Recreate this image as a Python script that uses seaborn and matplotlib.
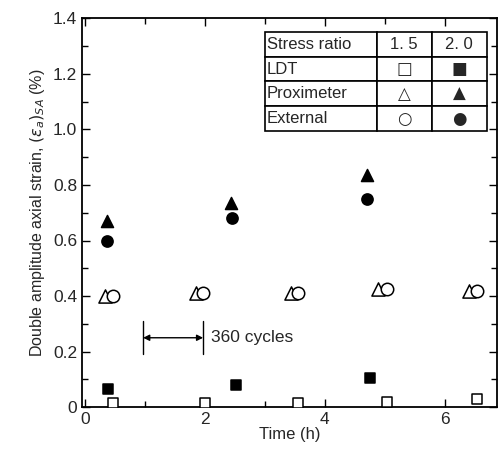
import numpy as np
import pandas as pd
import matplotlib
matplotlib.use("Agg")
import matplotlib.pyplot as plt
import seaborn as sns

# Data (time in h, strain in %)
ldt_15_t = [0.47, 2.0, 3.55, 5.03, 6.53]
ldt_15_y = [0.015, 0.015, 0.015, 0.02, 0.03]
prox_15_t = [0.33, 1.85, 3.44, 4.89, 6.40]
prox_15_y = [0.40, 0.41, 0.41, 0.425, 0.42]
ext_15_t = [0.47, 1.97, 3.56, 5.03, 6.53]
ext_15_y = [0.40, 0.41, 0.41, 0.425, 0.42]

ldt_20_t = [0.38, 2.52, 4.75]
ldt_20_y = [0.065, 0.08, 0.105]
prox_20_t = [0.37, 2.43, 4.70]
prox_20_y = [0.67, 0.735, 0.835]
ext_20_t = [0.37, 2.45, 4.70]
ext_20_y = [0.60, 0.68, 0.75]

x_ticks = [0, 2, 4, 6]
y_ticks = [0, 0.2, 0.4, 0.6, 0.8, 1.0, 1.2, 1.4]
y_ticklabels = ["0", "0.2", "0.4", "0.6", "0.8", "1.0", "1.2", "1.4"]

sns.set_style("ticks")
plt.rcParams["font.family"] = ["Liberation Sans", "DejaVu Sans"]

fig = plt.figure(figsize=(5.03, 4.55), dpi=100)
ax = fig.add_axes([0.163, 0.105, 0.825, 0.855])

series = [
    (ldt_15_t, ldt_15_y, "s", "white", 60),
    (prox_15_t, prox_15_y, "^", "white", 90),
    (ext_15_t, ext_15_y, "o", "white", 80),
    (ldt_20_t, ldt_20_y, "s", "black", 55),
    (prox_20_t, prox_20_y, "^", "black", 75),
    (ext_20_t, ext_20_y, "o", "black", 65),
]
for t, y, m, fc, s in series:
    df = pd.DataFrame({"time": t, "strain": y})
    sns.scatterplot(data=df, x="time", y="strain", marker=m, s=s,
                    facecolor=fc, edgecolor="black", linewidth=1.1,
                    ax=ax, zorder=3)

ax.set_xlim(-0.05, 6.87)
ax.set_ylim(0, 1.39)
ax.set_xticks(x_ticks)
ax.set_xticks([1, 3, 5], minor=True)
ax.set_yticks(y_ticks)
ax.set_yticklabels(y_ticklabels)
ax.set_yticks(np.arange(0.1, 1.4, 0.2), minor=True)
ax.tick_params(which="both", direction="in", top=True, right=True,
               labelsize=12.5, color="black", width=1.0)
ax.tick_params(which="major", length=6)
ax.tick_params(which="minor", length=4)
for sp in ax.spines.values():
    sp.set_linewidth(1.3)
    sp.set_color("black")

ax.set_xlabel("Time (h)", fontsize=12, labelpad=0)
ax.set_ylabel(r"Double amplitude axial strain, $(\varepsilon_a)_{SA}$ (%)",
              fontsize=11.5, labelpad=4)

# 360 cycles marker
ax.annotate("", xy=(0.97, 0.25), xytext=(1.97, 0.25),
            arrowprops=dict(arrowstyle="<|-|>", color="black", lw=1.0,
                            mutation_scale=9, shrinkA=0, shrinkB=0))
ax.plot([0.97, 0.97], [0.19, 0.31], color="black", lw=1.0)
ax.plot([1.97, 1.97], [0.19, 0.31], color="black", lw=1.0)
ax.text(2.1, 0.25, "360 cycles", fontsize=12.5, va="center", ha="left")

# legend table
cells = [["Stress ratio", "1. 5", "2. 0"],
         ["LDT", "\u25a1", "\u25a0"],
         ["Proximeter", "\u25b3", "\u25b2"],
         ["External", "\u25cb", "\u25cf"]]
tb = ax.table(cellText=cells, cellLoc="center",
              colWidths=[112, 55, 55],
              bbox=[0.44, 0.71, 0.535, 0.255])
tb.auto_set_font_size(False)
for (r, c), cell in tb.get_celld().items():
    cell.set_linewidth(1.2)
    cell.set_edgecolor("black")
    txt = cell.get_text()
    if c == 0 or r == 0:
        txt.set_family(["Liberation Sans", "DejaVu Sans"])
        txt.set_fontsize(12)
    else:
        txt.set_family(["DejaVu Sans"])
        txt.set_fontsize(12)
    if c == 0:
        txt.set_ha("left")
        cell._loc = "left"
        cell.PAD = 0.02

fig.savefig("out.png", dpi=100, facecolor="white")
